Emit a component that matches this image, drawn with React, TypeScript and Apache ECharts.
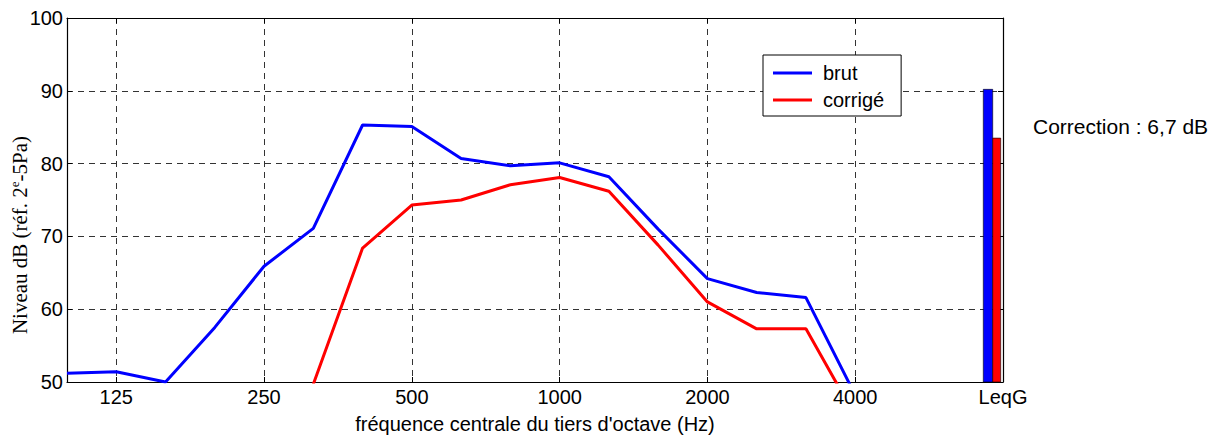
import React, { useEffect, useRef } from "react";
import * as echarts from "echarts";

const bands = ["100", "125", "160", "200", "250", "315", "400", "500", "630", "800", "1000", "1250", "1600", "2000", "2500", "3150", "4000", "5000", "6300", "LeqG"];
const brut = [51.2, 51.4, 50.0, 57.5, 65.9, 71.1, 85.3, 85.1, 80.7, 79.7, 80.1, 78.2, 71.0, 64.2, 62.3, 61.6, 48.2, null, null, null];
const corrige = [null, null, null, null, null, 49.7, 68.4, 74.3, 75.0, 77.1, 78.1, 76.2, 68.8, 61.0, 57.3, 57.3, 45.3, null, null, null];
const leqBrut = [[19, 90.2]];
const leqCorrige = [[19, 83.5]];
const yMin = 50;
const yMax = 100;
const yStep = 10;
const correctionText = "Correction : 6,7 dB";
const xTitle = "fréquence centrale du tiers d'octave (Hz)";

const BLUE = "#0000ff";
const RED = "#ff0000";
const SANS = "Liberation Sans, Arial, sans-serif";
const SERIF = "Liberation Serif, Times New Roman, serif";

const shown = (i: number) => i % 3 === 1;

function barRenderer(color: string, from: number, to: number) {
  return (params: any, api: any) => {
    const top = api.coord([api.value(0), api.value(1)]);
    const base = api.coord([api.value(0), yMin]);
    const w = api.size([1, 0])[0];
    return {
      type: "rect",
      shape: { x: top[0] + from * w, y: top[1], width: (to - from) * w, height: base[1] - top[1] },
      style: { fill: color, stroke: "#000", lineWidth: 0.6 },
    };
  };
}

export default function App() {
  const ref = useRef<HTMLDivElement>(null);
  useEffect(() => {
    if (!ref.current) return;
    const chart = echarts.init(ref.current, null, { renderer: "svg" });
    const dash = { color: "#333", width: 1, type: [6, 5] as any };
    const axisBlack = { show: true, lineStyle: { color: "#000", width: 1.2 } };
    chart.setOption({
      animation: false,
      backgroundColor: "#fff",
      grid: { left: 67, right: 223, top: 18, bottom: 54, containLabel: false },
      legend: {
        orient: "vertical",
        left: 763,
        top: 55,
        data: ["brut", "corrigé"],
        icon: "rect",
        itemWidth: 39,
        itemHeight: 3,
        itemGap: 7,
        padding: [8, 17, 6, 10],
        borderColor: "#000",
        borderWidth: 1,
        backgroundColor: "#fff",
        selectedMode: false,
        textStyle: { fontSize: 20, fontFamily: SANS, color: "#000", padding: [0, 0, 0, 6], lineHeight: 18 },
      },
      xAxis: [
        {
          type: "category",
          data: bands,
          boundaryGap: false,
          position: "bottom",
          axisLine: axisBlack,
          axisTick: { show: true, inside: true, length: 5, interval: (i: number) => shown(i), lineStyle: { color: "#000" } },
          axisLabel: { interval: (i: number) => shown(i), fontSize: 20, fontFamily: SANS, color: "#000", margin: 5 },
          splitLine: { show: true, interval: (i: number) => shown(i), lineStyle: dash },
        },
        {
          type: "category",
          data: bands,
          boundaryGap: false,
          position: "top",
          axisLine: axisBlack,
          axisTick: { show: true, inside: true, length: 5, interval: (i: number) => shown(i), lineStyle: { color: "#000" } },
          axisLabel: { show: false },
          splitLine: { show: false },
        },
      ],
      yAxis: [
        {
          type: "value",
          min: yMin,
          max: yMax,
          interval: yStep,
          position: "left",
          axisLine: axisBlack,
          axisTick: { show: true, inside: true, length: 5, lineStyle: { color: "#000" } },
          axisLabel: { fontSize: 20, fontFamily: SANS, color: "#000", margin: 4 },
          splitLine: { show: true, lineStyle: dash },
        },
        {
          type: "value",
          min: yMin,
          max: yMax,
          interval: yStep,
          position: "right",
          axisLine: axisBlack,
          axisTick: { show: true, inside: true, length: 5, lineStyle: { color: "#000" } },
          axisLabel: { show: false },
          splitLine: { show: false },
        },
      ],
      series: [
        {
          name: "brut",
          type: "line",
          data: brut,
          xAxisIndex: 0,
          yAxisIndex: 0,
          symbol: "none",
          clip: true,
          color: BLUE,
          lineStyle: { color: BLUE, width: 3 },
        },
        {
          name: "corrigé",
          type: "line",
          data: corrige,
          xAxisIndex: 0,
          yAxisIndex: 0,
          symbol: "none",
          clip: true,
          color: RED,
          lineStyle: { color: RED, width: 3 },
        },
        {
          name: "LeqG brut",
          type: "custom",
          data: leqBrut,
          renderItem: barRenderer(BLUE, -0.40, -0.209),
          z: 5,
        },
        {
          name: "LeqG corrigé",
          type: "custom",
          data: leqCorrige,
          renderItem: barRenderer(RED, -0.209, -0.047),
          z: 5,
        },
      ],
      graphic: [
        {
          type: "text",
          x: 20,
          y: 235,
          rotation: Math.PI / 2,
          style: {
            text: "{n|Niveau dB (réf. 2}{s|e}{n|-5Pa)}",
            align: "center",
            verticalAlign: "middle",
            fill: "#000",
            rich: {
              n: { fontSize: 21, fontFamily: SERIF, lineHeight: 24, fill: "#000" },
              s: { fontSize: 13, fontFamily: SERIF, verticalAlign: "top", lineHeight: 14, fill: "#000" },
            },
          },
        },
        {
          type: "text",
          x: 535,
          y: 424,
          style: { text: xTitle, font: `20px ${SANS}`, align: "center", verticalAlign: "middle", fill: "#000" },
        },
        {
          type: "text",
          x: 1033,
          y: 126,
          style: { text: correctionText, font: `21px ${SANS}`, align: "left", verticalAlign: "middle", fill: "#000" },
        },
      ],
    });
    return () => chart.dispose();
  }, []);
  return <div ref={ref} style={{ width: 1226, height: 436, position: "absolute", left: 0, top: 0 }} />;
}
